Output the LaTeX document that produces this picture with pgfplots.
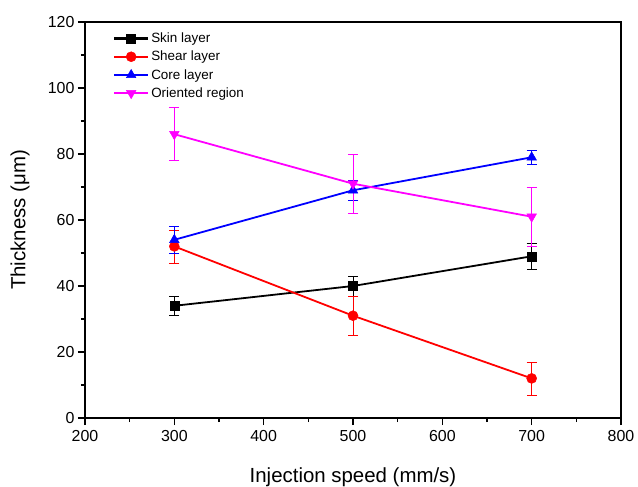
\documentclass[border=0pt]{standalone}
\usepackage{fontspec}
\setmainfont{Liberation Sans}
\usepackage{pgfplots}
\pgfplotsset{compat=1.18}
\definecolor{myblue}{RGB}{0,0,255}
\definecolor{mymag}{RGB}{255,0,255}
\begin{document}
\begin{tikzpicture}
\begin{axis}[
  name=ax,
  scale only axis,
  width=536bp, height=396bp,
  xmin=200, xmax=800, ymin=0, ymax=120,
  xtick={200,300,...,800}, ytick={0,20,...,120},
  minor x tick num=1, minor y tick num=1,
  tick align=outside, tick pos=left,
  major tick length=7bp, minor tick length=4bp,
  axis line style={line width=1.4pt},
  every tick/.style={black, line width=1.1pt},
  /pgf/number format/assume math mode=true,
  tick label style={font=\fontsize{16}{18}\selectfont},
  xticklabel style={yshift=-2bp},
  label style={font=\fontsize{20.5}{24}\selectfont},
  xlabel={Injection speed (mm/s)},
  ylabel={Thickness (μm)},
  xlabel style={at={(axis description cs:0.5,-0.163)}, anchor=base},
  ylabel style={at={(axis description cs:-0.121,0.5)}, anchor=center},
  legend style={draw=none, fill=none, inner sep=0pt, at={(axis description cs:0.052,0.978)}, anchor=north west,
    font=\fontsize{13.5}{16}\selectfont, row sep=3bp,
    /tikz/every even column/.append style={column sep=5bp}},
  legend cell align=left,
  legend image code/.code={\draw[#1,line width=2.2pt] (0bp,0bp) -- (34bp,0bp);
    \path[#1] plot[mark size=3.8bp] coordinates {(17bp,0bp)};},
  every axis plot/.append style={line width=1.8pt, mark size=5bp,
    error bars/error bar style={line width=0.7pt},
    error bars/error mark options={rotate=90, mark size=5bp, line width=0.7pt}},
]
\addplot+[black, mark=square*, mark options={fill=black, mark size=4.5bp, line width=0.5pt},
  error bars/.cd, y dir=both, y explicit]
  coordinates {(300,34) +- (0,3) (500,40) +- (0,3) (700,49) +- (0,4)};
\addlegendentry{Skin layer}
\addplot+[red, mark=*, mark options={fill=red, mark size=5bp, line width=0.5pt},
  error bars/.cd, y dir=both, y explicit]
  coordinates {(300,52) +- (0,5) (500,31) +- (0,6) (700,12) +- (0,5)};
\addlegendentry{Shear layer}
\addplot+[myblue, mark=triangle*, mark options={fill=myblue, mark size=5.5bp, line width=0.5pt},
  error bars/.cd, y dir=both, y explicit]
  coordinates {(300,54) +- (0,4) (500,69) +- (0,3) (700,79) +- (0,2)};
\addlegendentry{Core layer}
\addplot+[mymag, mark=triangle*, mark options={fill=mymag, rotate=180, mark size=5.5bp, line width=0.5pt},
  error bars/.cd, y dir=both, y explicit]
  coordinates {(300,86) +- (0,8) (500,71) +- (0,9) (700,61) +- (0,9)};
\addlegendentry{Oriented region}
\end{axis}
\pgfresetboundingbox
\path[use as bounding box] ([shift={(-85bp,-69bp)}]ax.south west) rectangle ([shift={(553bp,418bp)}]ax.south west);
\end{tikzpicture}
\end{document}
